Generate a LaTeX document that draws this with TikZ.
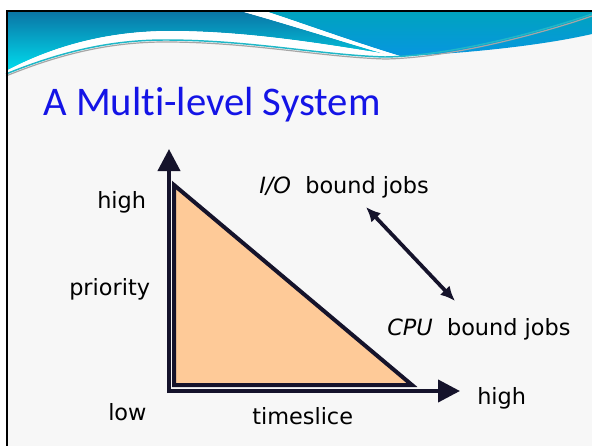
\documentclass[tikz,border=0pt]{standalone}
\usepackage{fontspec}
\setmainfont{DejaVu Sans}
\newfontfamily\titlefont[Ligatures=NoCommon]{Carlito}
\usetikzlibrary{arrows.meta}

\definecolor{slidebg}{HTML}{F7F7F7}
\definecolor{bandtop}{HTML}{0A76A6}
\definecolor{bandcyan}{HTML}{00DDEE}
\definecolor{tealtop}{HTML}{00A3BF}
\definecolor{bluebot}{HTML}{0796E0}
\definecolor{swoosh}{HTML}{1FB8C8}
\definecolor{inkdark}{HTML}{15132B}
\definecolor{wedge}{HTML}{FECA98}
\definecolor{titleblue}{HTML}{1414E6}

\tikzset{
  axisline/.style={draw=inkdark, line width=3pt,
    -{Triangle[length=16.5pt,width=16.5pt]}},
  wedgebox/.style={draw=inkdark, fill=wedge, line width=3pt},
  swaparrow/.style={draw=inkdark, line width=2.8pt,
    {Latex[length=11pt,width=10pt]}-{Latex[length=11pt,width=10pt]}},
  label/.style={font=\fontsize{16.8}{19}\selectfont, text=black,
    inner sep=0pt, anchor=base west},
  slidetitle/.style={font=\titlefont\fontsize{30.5}{34}\selectfont,
    text=titleblue, inner sep=0pt, anchor=base west}
}

\begin{document}
\begin{tikzpicture}[x=0.75pt,y=-0.75pt]
\useasboundingbox (0,0) rectangle (592,446);

% page and slide background
\fill[white] (0,0) rectangle (592,446);
\fill[slidebg] (6,11) rectangle (592,446);

% left part of the header band
\shade[top color=bandtop, bottom color=bandcyan]
  (6,12) -- (244,12) .. controls (300,28) and (350,44) .. (385,54)
  .. controls (330,45) and (250,31) .. (170,31)
  .. controls (110,31) and (55,45) .. (6,71) -- cycle;

% white lens under the band
\fill[white]
  (6,71) .. controls (55,45) and (110,31) .. (170,31)
  .. controls (250,31) and (330,45) .. (400,56) -- (385,57)
  .. controls (320,55) and (250,40) .. (165,40)
  .. controls (110,40) and (60,52) .. (6,74) -- cycle;

% right part of the header band
\shade[top color=tealtop, bottom color=bluebot]
  (268,12) -- (592,12) -- (592,34)
  .. controls (540,46) and (460,54) .. (400,56)
  .. controls (360,44) and (310,26) .. (268,12) -- cycle;

% white diagonal stripe
\fill[white] (244,12) -- (268,12) .. controls (310,26) and (360,44) .. (400,56)
  -- (385,54) .. controls (350,44) and (300,28) .. (244,12) -- cycle;

% thin swoosh lines
\draw[gray!70, line width=0.9pt]
  (6,76) .. controls (60,54) and (110,42) .. (165,42)
  .. controls (250,42) and (320,57) .. (385,59)
  .. controls (450,58) and (540,34) .. (592,16);
\draw[swoosh, line width=1.1pt]
  (6,74) .. controls (60,52) and (110,40) .. (165,40)
  .. controls (250,40) and (320,55) .. (385,57)
  .. controls (450,56) and (540,32) .. (592,14);

% slide frame
\draw[black, line width=1.4pt] (6,11) -- (592,11);
\draw[black, line width=1.8pt] (7.2,11) -- (7.2,446);

% title
\node[slidetitle] (title) at (43,115) {A Multi-level System};

% the wedge
\coordinate (wtop) at (174,185);
\coordinate (wcorner) at (174,385);
\coordinate (wright) at (412,385);
\draw[wedgebox] (wtop) -- (wcorner) -- (wright) -- cycle;

% axes
\coordinate (origin) at (169,391);
\coordinate (ytip) at (169,149);
\coordinate (xtip) at (460,391);
\draw[axisline] ([yshift=-1.5pt]origin) -- (ytip);
\draw[axisline] ([xshift=-1.5pt]origin) -- (xtip);

% axis labels
\node[label] (yhigh) at (97,208) {high};
\node[label] (prio) at (69,295) {priority};
\node[label] (ylow) at (108,420) {low};
\node[label] (tslice) at (252,424) {timeslice};
\node[label] (xhigh) at (477,404) {high};

% job classes
\node[label] (io) at (259,193) {\textit{I/O}\ \ bound jobs};
\node[label] (cpu) at (387,335) {\textit{CPU}\ \ bound jobs};
\coordinate (ioend) at (366,207);
\coordinate (cpuend) at (455,301);
\draw[swaparrow] (ioend) -- (cpuend);

\end{tikzpicture}
\end{document}
